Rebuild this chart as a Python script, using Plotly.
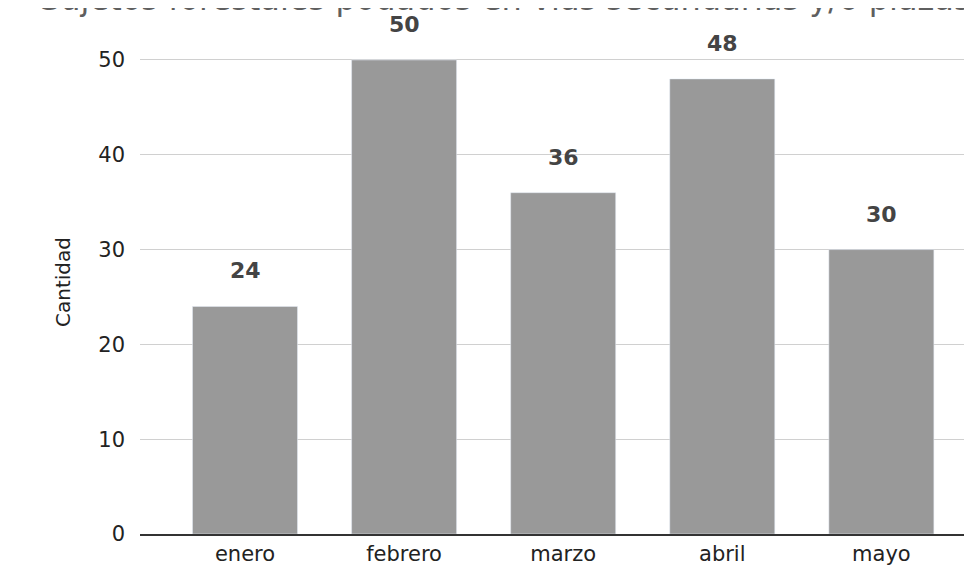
import plotly.graph_objects as go

meses = ["enero", "febrero", "marzo", "abril", "mayo"]
cantidad = [24, 50, 36, 48, 30]
ticks_y = [0, 10, 20, 30, 40, 50]
titulo = "Sujetos forestales podados en vías secundarias y/o plazas"

fig = go.Figure(go.Bar(
    x=meses, y=cantidad,
    marker_color="#999999",
    width=0.66,
))

# etiquetas de valor sobre las barras
for m, v in zip(meses, cantidad):
    fig.add_annotation(x=m, y=v, text="<b>%d</b>" % v, showarrow=False,
                       yanchor="bottom", yshift=21,
                       font=dict(family="DejaVu Sans", size=22, color="#444444"))

# titulo (queda cortado arriba como en el original)
fig.add_annotation(text=titulo, xref="paper", yref="paper", x=-0.121, y=1.062,
                   xanchor="left", yanchor="middle", showarrow=False,
                   font=dict(family="DejaVu Sans", size=32, color="#5f5f5f"))

fig.update_layout(
    width=972, height=569,
    margin=dict(l=132, r=0, t=22, b=43),
    plot_bgcolor="white", paper_bgcolor="white",
    showlegend=False,
    font=dict(family="DejaVu Sans", size=20, color="#222222"),
)
fig.update_xaxes(range=[-0.66, 4.62], showline=True, linecolor="#333333", linewidth=2,
                 ticks="", tickfont=dict(size=21))
fig.update_yaxes(range=[0, 53.16], tickvals=ticks_y, gridcolor="#d0d0d0",
                 zeroline=False, ticks="", ticklabelstandoff=14,
                 title=dict(text="Cantidad", standoff=22, font=dict(size=20)),
                 tickfont=dict(size=21))

fig.write_html("out.html")
